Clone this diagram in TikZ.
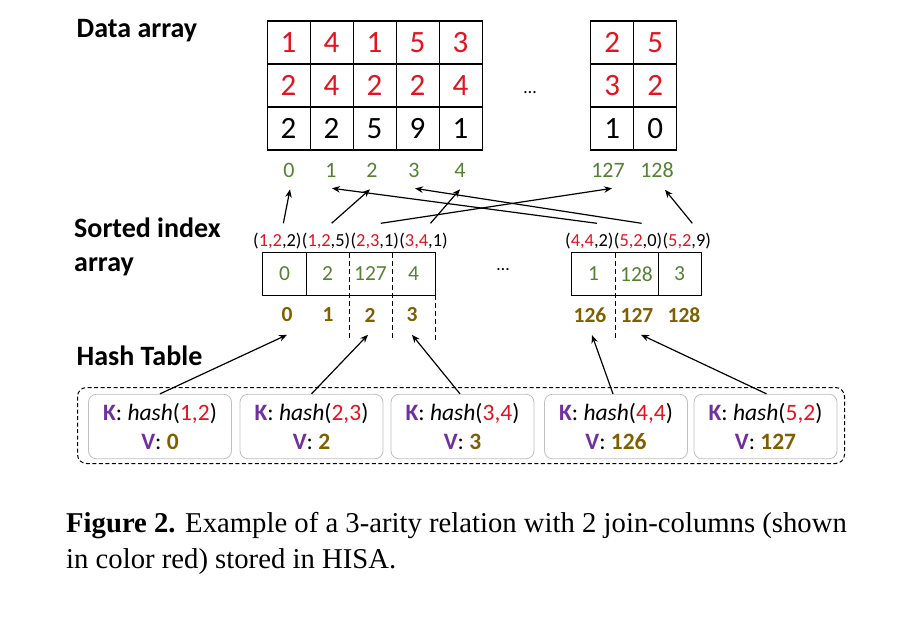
\documentclass[tikz,border=0pt]{standalone}
\usepackage{fontspec}
\setmainfont{Carlito}
\newfontfamily\capfont{Liberation Serif}
\usetikzlibrary{arrows.meta}
\definecolor{jred}{RGB}{226,20,30}
\definecolor{kpurple}{RGB}{112,48,160}
\definecolor{vgold}{RGB}{127,96,0}
\definecolor{igreen}{RGB}{84,130,53}
\definecolor{hgray}{RGB}{192,192,192}
\begin{document}
\begin{tikzpicture}[x=1pt,y=-1pt,
 cell/.style={draw, line width=1.1pt, minimum width=43pt, minimum height=43pt, inner sep=0pt, font=\fontsize{31}{33}\selectfont},
 scell/.style={minimum width=43pt, minimum height=42pt, inner sep=0pt, text=igreen, font=\fontsize{21.5}{24}\selectfont},
 idx/.style={text=igreen, font=\fontsize{22}{24}\selectfont, inner sep=2pt},
 bidx/.style={text=vgold, font=\bfseries\fontsize{21.5}{24}\selectfont, inner sep=2pt},
 tup/.style={font=\fontsize{18.4}{20}\selectfont, inner sep=0pt, anchor=west},
 heading/.style={font=\bfseries\fontsize{28}{34.7}\selectfont, anchor=base west, inner sep=0pt, align=left},
 hbox/.style={draw=hgray, line width=0.8pt, rounded corners=8pt, minimum width=143pt, minimum height=64.5pt, align=center, font=\fontsize{23.5}{29}\selectfont},
 arr/.style={-{Stealth[length=8pt,width=6.5pt]}, line width=1.2pt},
 outl/.style={line width=1pt},
]
\useasboundingbox[fill=white] (0,0) rectangle (902,621);

% headings
\node[heading] (hdata) at (76.5,37) {Data array};
\node[heading] (hsort) at (74,271.7) {Sorted index\\array};
\node[heading] (hhash) at (76.5,365) {Hash Table};

% data array
\foreach \x/\p/\q/\r/\n in {288.6/1/2/2/0, 331.6/4/4/2/1, 374.6/1/2/5/2, 417.6/5/2/9/3, 460.6/3/4/1/4, 612.3/2/3/1/127, 655.3/5/2/0/128} {
  \node[cell, text=jred] (a\n-1) at (\x,42.5) {\p};
  \node[cell, text=jred] (a\n-2) at (\x,85.5) {\q};
  \node[cell] (a\n-3) at (\x,128.5) {\r};
}
\node[font=\fontsize{18}{20}\selectfont] (ddots) at (530,93) {\dots};

% data indexes
\foreach \x/\n in {289/0, 331/1, 372/2, 414/3, 460/4, 608/127, 657/128} {
  \node[idx] (d\n) at (\x,170) {\n};
}

% tuples
\node[tup] (t1) at (253,241) {(\textcolor{jred}{1,2},2)};
\node[tup] (t2) at (t1.east) {(\textcolor{jred}{1,2},5)};
\node[tup] (t3) at (t2.east) {(\textcolor{jred}{2,3},1)};
\node[tup] (t4) at (t3.east) {(\textcolor{jred}{3,4},1)};
\node[tup] (t5) at (565,241) {(\textcolor{jred}{4,4},2)};
\node[tup] (t6) at (t5.east) {(\textcolor{jred}{5,2},0)};
\node[tup] (t7) at (t6.east) {(\textcolor{jred}{5,2},9)};

% sorted index array cells
\foreach \x/\v/\n in {284.5/0/0, 327.5/2/1, 370.5/127/2, 413.5/4/3} {
  \node[scell] (s\n) at (\x,274) {\v};
}
\foreach \x/\v/\n in {593.5/1/0, 636.5/128/1, 679.5/3/2} {
  \node[scell] (r\n) at (\x,274) {\v};
}
\draw[outl] (s0.north west) rectangle (s3.south east);
\draw[outl] (s0.north east) -- (s0.south east);
\draw[outl] (r0.north west) rectangle (r2.south east);
\draw[outl] (r1.north east) -- (r1.south east);
\draw[outl, dashed, dash pattern=on 5pt off 3pt] (s1.north east) -- ++(0,87);
\draw[outl, dashed, dash pattern=on 5pt off 3pt] (s2.north east) -- ++(0,87);
\draw[outl, dashed, dash pattern=on 5pt off 3pt] (s3.south east) -- ++(0,45);
\draw[outl, dashed, dash pattern=on 5pt off 3pt] (r0.north east) -- ++(0,87);
\node[font=\fontsize{18}{20}\selectfont] (sdots) at (503,270) {\dots};

% bold indexes
\foreach \x/\n in {287/0, 328/1, 370/2, 412/3, 590/126, 637/127, 684/128} {
  \node[bidx] (b\n) at (\x,315) {\n};
}

% arrows sorted -> data
\draw[arr] ([xshift=6pt,yshift=9.5pt]t1.north) -- ([xshift=1pt,yshift=-10pt]d0.south);
\draw[arr] ([xshift=5.5pt,yshift=9.5pt]t2.north) -- ([xshift=-2pt,yshift=-10pt]d2.south);
\draw[arr] ([xshift=6pt,yshift=9.5pt]t3.north) -- ([xshift=4pt,yshift=-9pt]d127.south);
\draw[arr] ([xshift=7pt,yshift=9.5pt]t4.north) -- ([xshift=0pt,yshift=-10pt]d4.south);
\draw[arr] ([xshift=7.5pt,yshift=9.5pt]t5.north) -- ([xshift=1pt,yshift=-9pt]d1.south);
\draw[arr] ([xshift=3.5pt,yshift=9.5pt]t6.north) -- ([xshift=1pt,yshift=-9pt]d3.south);
\draw[arr] ([xshift=5.5pt,yshift=9.5pt]t7.north) -- ([xshift=8pt,yshift=-10pt]d128.south);

% hash table
\draw[line width=1pt, dashed, dash pattern=on 4pt off 2.5pt, rounded corners=9pt] (77.5,387.5) rectangle (844.5,463.5);
\foreach \x/\a/\b/\v/\n in {160/1/2/0/1, 311.5/2/3/2/2, 462.5/3/4/3/3, 616/4/4/126/4, 765.5/5/2/127/5} {
  \node[hbox] (h\n) at (\x,426.5) {\textcolor{kpurple}{\bfseries K}: \textit{hash}(\textcolor{jred}{\a,\b})\\\textcolor{kpurple}{\bfseries V}: \textcolor{vgold}{\bfseries \v}};
}
\draw[arr] (h1.north) -- ([xshift=0pt,yshift=-10.5pt]b0.south);
\draw[arr] (h2.north) -- ([xshift=-2pt,yshift=-10.5pt]b2.south);
\draw[arr] ([xshift=-2.5pt]h3.north) -- ([xshift=0pt,yshift=-10.5pt]b3.south);
\draw[arr] ([xshift=-3pt]h4.north) -- ([xshift=2pt,yshift=-10.5pt]b126.south);
\draw[arr] ([xshift=1pt]h5.north) -- ([xshift=4pt,yshift=-10.5pt]b127.south);

% caption
\node[anchor=base west, inner sep=0pt, align=left, font=\capfont\fontsize{28.7}{36}\selectfont] (cap) at (66,568) {\textbf{Figure 2.} Example of a 3-arity relation with 2 join-columns (shown\\in color red) stored in HISA.};
\end{tikzpicture}
\end{document}
